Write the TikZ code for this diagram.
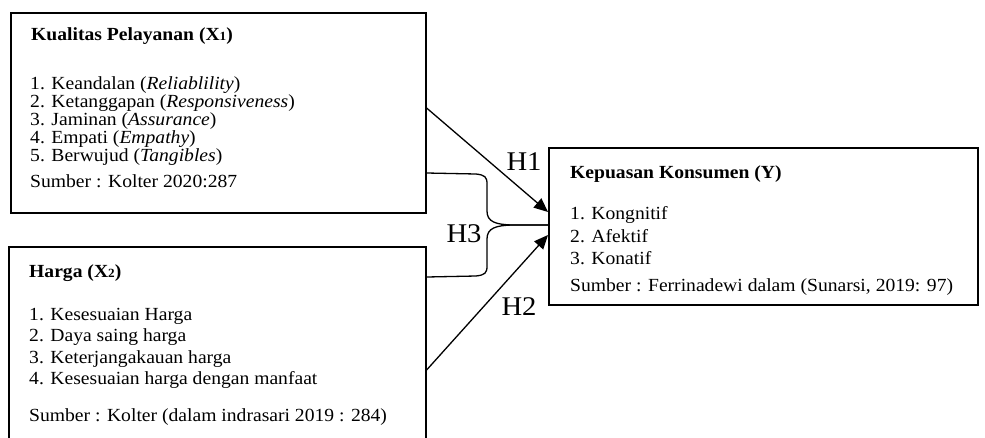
\documentclass[tikz,border=0pt]{standalone}
\usepackage{fontspec}
\setmainfont{Liberation Serif}[FakeStretch=1.06]
\usetikzlibrary{arrows.meta}
\newcommand{\sbs}[1]{\raisebox{-0.5pt}{\fontsize{12.5}{12.5}\selectfont #1}}
\begin{document}
\begin{tikzpicture}[x=1pt,y=-1pt,
  box/.style={draw, line width=1.6pt, inner sep=0, anchor=north west},
  txt/.style={anchor=base west, inner sep=0, font=\fontsize{18.5}{18.5}\selectfont},
  ttl/.style={anchor=base west, inner sep=0, font=\fontsize{18.5}{18.5}\selectfont\bfseries},
  hlab/.style={inner sep=0, font=\fontsize{27}{27}\selectfont},
  conn/.style={line width=1.3pt},
  arr/.style={conn, -{Triangle[length=14pt,width=12pt]}}]
\useasboundingbox (0,0) rectangle (985,437);
\begin{scope}
\clip (0,0) rectangle (985,437);
% boxes
\node[box, minimum width=415pt, minimum height=200pt] (b1) at (10,12) {};
\node[box, minimum width=417pt, minimum height=240pt] (b2) at (8,246) {};
\node[box, minimum width=429pt, minimum height=157pt] (b3) at (548,147) {};
% box 1 text
\node[ttl] (t1) at (31,40) {Kualitas Pelayanan (X\sbs{1})};
\node[txt] (t1a) at (30,89) {1. Keandalan (\textit{Reliablility})};
\node[txt] (t1b) at (30,107) {2. Ketanggapan (\textit{Responsiveness})};
\node[txt] (t1c) at (30,125) {3. Jaminan (\textit{Assurance})};
\node[txt] (t1d) at (30,143) {4. Empati (\textit{Empathy})};
\node[txt] (t1e) at (30,161) {5. Berwujud (\textit{Tangibles})};
\node[txt] (t1s) at (30,187) {Sumber : Kolter 2020:287};
% box 2 text
\node[ttl] (t2) at (29,277) {Harga (X\sbs{2})};
\node[txt] (t2a) at (29,320) {1. Kesesuaian Harga};
\node[txt] (t2b) at (29,341) {2. Daya saing harga};
\node[txt] (t2c) at (29,363) {3. Keterjangakauan harga};
\node[txt] (t2d) at (29,384) {4. Kesesuaian harga dengan manfaat};
\node[txt] (t2s) at (29,421) {Sumber : Kolter (dalam indrasari 2019 : 284)};
% box 3 text
\node[ttl] (t3) at (570,178) {Kepuasan Konsumen (Y)};
\node[txt] (t3a) at (570,219) {1. Kongnitif};
\node[txt] (t3b) at (570,242) {2. Afektif};
\node[txt] (t3c) at (570,264) {3. Konatif};
\node[txt] (t3s) at (570,291) {Sumber : Ferrinadewi dalam (Sunarsi, 2019: 97)};
% connector points
\path (b1.north east) ++(0,96) coordinate (h1s);
\path (b3.north west) ++(0,65) coordinate (h1e);
\path (b2.north east) ++(0,124) coordinate (h2s);
\path (b3.north west) ++(0,88) coordinate (h2e);
\path (b1.north east) ++(0,161) coordinate (h3a);
\path (b2.north east) ++(0,31) coordinate (h3b);
\path (b3.north west) ++(0,78) coordinate (h3m);
% connectors
\draw[arr] (h1s) -- (h1e);
\draw[arr] (h2s) -- (h2e);
\draw[conn] (h3a) -- (476,174) .. controls (485,175) and (487,177) .. (487,184)
  -- (487,211) .. controls (487,222) and (496,224.5) .. (512,225) -- (h3m);
\draw[conn] (h3b) -- (476,276) .. controls (485,275) and (487,273) .. (487,266)
  -- (487,239) .. controls (487,228) and (496,225.5) .. (512,225) -- (h3m);
% labels
\node[hlab] (l1) at (524,162) {H1};
\node[hlab] (l3) at (464,234) {H3};
\node[hlab] (l2) at (519,307) {H2};
\end{scope}
\end{tikzpicture}
\end{document}
